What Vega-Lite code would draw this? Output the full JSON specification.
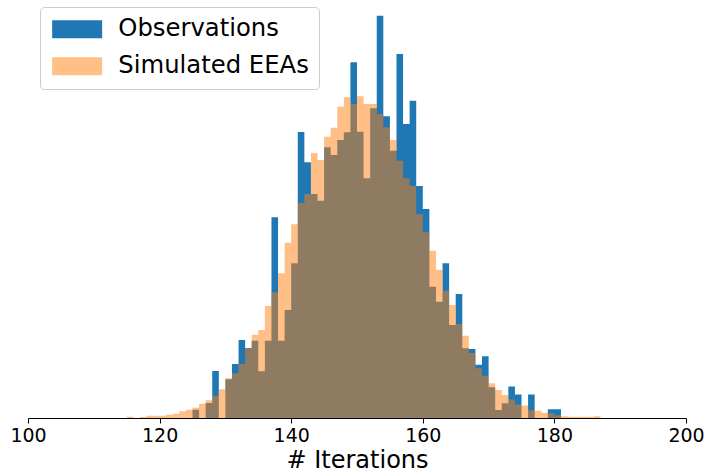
{
  "$schema": "https://vega.github.io/schema/vega-lite/v6.json",
  "width": 658,
  "height": 418,
  "autosize": {"type": "none"},
  "padding": {"left": 28, "top": 0, "right": 21, "bottom": 56},
  "background": "white",
  "config": {
    "view": {"stroke": null},
    "font": "DejaVu Sans"
  },
  "datasets": {
    "hist": [
      {"series":"Observations","x":125,"n":8.3},
      {"series":"Observations","x":126,"n":0},
      {"series":"Observations","x":127,"n":15},
      {"series":"Observations","x":128,"n":47},
      {"series":"Observations","x":129,"n":0},
      {"series":"Observations","x":130,"n":38.7},
      {"series":"Observations","x":131,"n":54},
      {"series":"Observations","x":132,"n":78},
      {"series":"Observations","x":133,"n":70},
      {"series":"Observations","x":134,"n":77.3},
      {"series":"Observations","x":135,"n":46.7},
      {"series":"Observations","x":136,"n":77.3},
      {"series":"Observations","x":137,"n":200.7},
      {"series":"Observations","x":138,"n":77.3},
      {"series":"Observations","x":139,"n":108},
      {"series":"Observations","x":140,"n":154.7},
      {"series":"Observations","x":141,"n":286},
      {"series":"Observations","x":142,"n":255.7},
      {"series":"Observations","x":143,"n":224},
      {"series":"Observations","x":144,"n":217.3},
      {"series":"Observations","x":145,"n":270.7},
      {"series":"Observations","x":146,"n":263},
      {"series":"Observations","x":147,"n":278},
      {"series":"Observations","x":148,"n":285.7},
      {"series":"Observations","x":149,"n":355.7},
      {"series":"Observations","x":150,"n":286.3},
      {"series":"Observations","x":151,"n":239.7},
      {"series":"Observations","x":152,"n":309.7},
      {"series":"Observations","x":153,"n":402.3},
      {"series":"Observations","x":154,"n":301.7},
      {"series":"Observations","x":155,"n":267.3},
      {"series":"Observations","x":156,"n":364},
      {"series":"Observations","x":157,"n":294},
      {"series":"Observations","x":158,"n":317.3},
      {"series":"Observations","x":159,"n":232},
      {"series":"Observations","x":160,"n":209},
      {"series":"Observations","x":161,"n":131.3},
      {"series":"Observations","x":162,"n":116.3},
      {"series":"Observations","x":163,"n":154.7},
      {"series":"Observations","x":164,"n":93},
      {"series":"Observations","x":165,"n":124},
      {"series":"Observations","x":166,"n":69.7},
      {"series":"Observations","x":167,"n":69},
      {"series":"Observations","x":168,"n":53.3},
      {"series":"Observations","x":169,"n":61.7},
      {"series":"Observations","x":170,"n":30.7},
      {"series":"Observations","x":171,"n":8},
      {"series":"Observations","x":172,"n":14.7},
      {"series":"Observations","x":173,"n":31.5},
      {"series":"Observations","x":174,"n":23.5},
      {"series":"Observations","x":175,"n":0},
      {"series":"Observations","x":176,"n":23.5},
      {"series":"Observations","x":177,"n":0},
      {"series":"Observations","x":178,"n":0},
      {"series":"Observations","x":179,"n":8.7},
      {"series":"Observations","x":180,"n":8.7},
      {"series":"Observations","x":181,"n":0},
      {"series":"Simulated EEAs","x":115,"n":1.3},
      {"series":"Simulated EEAs","x":116,"n":0},
      {"series":"Simulated EEAs","x":117,"n":1},
      {"series":"Simulated EEAs","x":118,"n":2.3},
      {"series":"Simulated EEAs","x":119,"n":2.3},
      {"series":"Simulated EEAs","x":120,"n":2.3},
      {"series":"Simulated EEAs","x":121,"n":3.3},
      {"series":"Simulated EEAs","x":122,"n":4.3},
      {"series":"Simulated EEAs","x":123,"n":6.7},
      {"series":"Simulated EEAs","x":124,"n":8.3},
      {"series":"Simulated EEAs","x":125,"n":10.3},
      {"series":"Simulated EEAs","x":126,"n":14.3},
      {"series":"Simulated EEAs","x":127,"n":17.7},
      {"series":"Simulated EEAs","x":128,"n":22.3},
      {"series":"Simulated EEAs","x":129,"n":28.7},
      {"series":"Simulated EEAs","x":130,"n":39.7},
      {"series":"Simulated EEAs","x":131,"n":44.7},
      {"series":"Simulated EEAs","x":132,"n":54},
      {"series":"Simulated EEAs","x":133,"n":70},
      {"series":"Simulated EEAs","x":134,"n":83.3},
      {"series":"Simulated EEAs","x":135,"n":88},
      {"series":"Simulated EEAs","x":136,"n":112},
      {"series":"Simulated EEAs","x":137,"n":125.7},
      {"series":"Simulated EEAs","x":138,"n":144.7},
      {"series":"Simulated EEAs","x":139,"n":175.3},
      {"series":"Simulated EEAs","x":140,"n":193.7},
      {"series":"Simulated EEAs","x":141,"n":215},
      {"series":"Simulated EEAs","x":142,"n":224},
      {"series":"Simulated EEAs","x":143,"n":265},
      {"series":"Simulated EEAs","x":144,"n":258},
      {"series":"Simulated EEAs","x":145,"n":281.3},
      {"series":"Simulated EEAs","x":146,"n":290.3},
      {"series":"Simulated EEAs","x":147,"n":311.3},
      {"series":"Simulated EEAs","x":148,"n":320.7},
      {"series":"Simulated EEAs","x":149,"n":314},
      {"series":"Simulated EEAs","x":150,"n":321.7},
      {"series":"Simulated EEAs","x":151,"n":314},
      {"series":"Simulated EEAs","x":152,"n":314},
      {"series":"Simulated EEAs","x":153,"n":304},
      {"series":"Simulated EEAs","x":154,"n":290.7},
      {"series":"Simulated EEAs","x":155,"n":278},
      {"series":"Simulated EEAs","x":156,"n":257.3},
      {"series":"Simulated EEAs","x":157,"n":239.7},
      {"series":"Simulated EEAs","x":158,"n":232.3},
      {"series":"Simulated EEAs","x":159,"n":204},
      {"series":"Simulated EEAs","x":160,"n":185.7},
      {"series":"Simulated EEAs","x":161,"n":167.3},
      {"series":"Simulated EEAs","x":162,"n":148.3},
      {"series":"Simulated EEAs","x":163,"n":127.3},
      {"series":"Simulated EEAs","x":164,"n":113},
      {"series":"Simulated EEAs","x":165,"n":94},
      {"series":"Simulated EEAs","x":166,"n":82.3},
      {"series":"Simulated EEAs","x":167,"n":65},
      {"series":"Simulated EEAs","x":168,"n":49.7},
      {"series":"Simulated EEAs","x":169,"n":42.3},
      {"series":"Simulated EEAs","x":170,"n":34.7},
      {"series":"Simulated EEAs","x":171,"n":28},
      {"series":"Simulated EEAs","x":172,"n":23},
      {"series":"Simulated EEAs","x":173,"n":18.5},
      {"series":"Simulated EEAs","x":174,"n":13.5},
      {"series":"Simulated EEAs","x":175,"n":12.5},
      {"series":"Simulated EEAs","x":176,"n":8},
      {"series":"Simulated EEAs","x":177,"n":7.3},
      {"series":"Simulated EEAs","x":178,"n":5.3},
      {"series":"Simulated EEAs","x":179,"n":4.7},
      {"series":"Simulated EEAs","x":180,"n":2.7},
      {"series":"Simulated EEAs","x":181,"n":1.7},
      {"series":"Simulated EEAs","x":182,"n":1.3},
      {"series":"Simulated EEAs","x":183,"n":1.3},
      {"series":"Simulated EEAs","x":184,"n":1.3},
      {"series":"Simulated EEAs","x":185,"n":1.3},
      {"series":"Simulated EEAs","x":186,"n":1.7},
      {"series":"Simulated EEAs","x":187,"n":0}
    ]
  },
  "data": {"name": "hist"},
  "encoding": {
    "x": {
      "field": "x", "type": "quantitative",
      "scale": {"domain": [100, 200], "nice": false, "zero": false},
      "axis": {
        "title": "# Iterations",
        "values": [100, 120, 140, 160, 180, 200],
        "grid": false,
        "domainColor": "#000000",
        "domainWidth": 1,
        "tickColor": "#000000",
        "tickSize": 5,
        "tickWidth": 1,
        "labelFont": "DejaVu Sans",
        "labelFontSize": 19,
        "labelColor": "#000000",
        "labelPadding": 3,
        "labelFlush": false,
        "titleFont": "DejaVu Sans",
        "titleFontSize": 24,
        "titleFontWeight": "normal",
        "titleColor": "#000000",
        "titlePadding": 3
      }
    },
    "y": {
      "field": "n", "type": "quantitative",
      "scale": {"domain": [0, 418], "nice": false},
      "stack": null,
      "axis": null
    },
    "y2": {"datum": 0},
    "color": {
      "field": "series", "type": "nominal",
      "scale": {"domain": ["Observations", "Simulated EEAs"], "range": ["#1f77b4", "#ff7f0e"]},
      "legend": {
        "title": null,
        "orient": "none",
        "legendX": 12,
        "legendY": 7,
        "symbolType": "M-1,-0.9L4,-0.9L4,0.9L-1,0.9Z",
        "symbolSize": 400,
        "symbolStrokeWidth": 0,
        "labelFont": "DejaVu Sans",
        "labelFontSize": 24.3,
        "labelLimit": 400,
        "labelColor": "#000000",
        "labelOffset": 44,
        "rowPadding": 12,
        "padding": 10,
        "strokeColor": "#cccccc",
        "fillColor": "rgba(255,255,255,0.8)",
        "cornerRadius": 4
      }
    },
    "opacity": {
      "field": "series", "type": "nominal",
      "scale": {"domain": ["Observations", "Simulated EEAs"], "range": [1, 0.5]},
      "legend": null
    }
  },
  "layer": [
    {"transform": [{"filter": "datum.series === 'Observations'"}], "mark": {"type": "area", "interpolate": "step-after", "strokeWidth": 0}},
    {"transform": [{"filter": "datum.series === 'Simulated EEAs'"}], "mark": {"type": "area", "interpolate": "step-after", "strokeWidth": 0}}
  ]
}
